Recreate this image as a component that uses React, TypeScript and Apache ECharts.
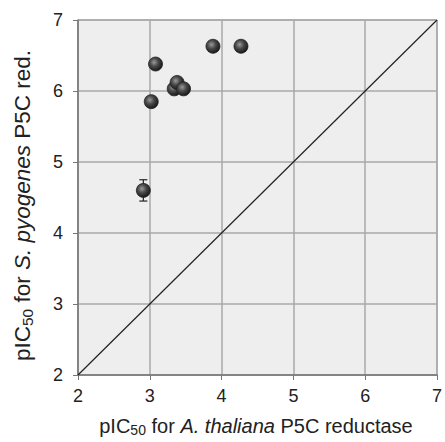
import React, { useEffect, useRef } from "react";
import * as echarts from "echarts";

const xThaliana = [2.91, 3.02, 3.08, 3.34, 3.38, 3.47, 3.88, 4.27];
const ySpyogenes = [4.6, 5.85, 6.38, 6.03, 6.12, 6.03, 6.63, 6.63];
const yError = [0.15, 0, 0, 0, 0, 0, 0, 0];
const identityLine = [2, 7];
const ticks = [2, 3, 4, 5, 6, 7];

export default function App() {
  const ref = useRef<HTMLDivElement>(null);
  useEffect(() => {
    if (!ref.current) return;
    const chart = echarts.init(ref.current, undefined, { renderer: "svg" });
    const font = "'Liberation Sans', Arial, sans-serif";
    const sphere = new echarts.graphic.RadialGradient(0.4, 0.38, 0.65, [
      { offset: 0, color: "#9a9a9a" },
      { offset: 0.45, color: "#4a4a4a" },
      { offset: 1, color: "#151515" },
    ]);
    const mkRich = (fs: number, sub: number, pad: number) => ({
      n: { fontSize: fs, fontFamily: font, color: "#222" },
      i: { fontSize: fs, fontFamily: font, color: "#222", fontStyle: "italic" },
      sub: { fontSize: sub, fontFamily: font, color: "#222", padding: [pad, 0, 0, 0] },
    });
    const errData = xThaliana
      .map((x, k) => [x, ySpyogenes[k] - yError[k], ySpyogenes[k] + yError[k]])
      .filter((d, k) => yError[k] > 0);
    chart.setOption({
      animation: false,
      backgroundColor: "#fff",
      grid: { left: 78, right: 3, top: 20, bottom: 67, show: true, backgroundColor: "#eeeeee", borderColor: "#888", borderWidth: 1 },
      xAxis: {
        type: "value",
        min: ticks[0],
        max: ticks[ticks.length - 1],
        interval: 1,
        name: "{n|pIC}{sub|50}{n| for }{i|A. thaliana}{n| P5C reductase}",
        nameLocation: "middle",
        nameGap: 40,
        nameTextStyle: { rich: mkRich(20, 14, 8), padding: [0, 3, 0, 0] },
        axisLine: { show: true, onZero: false, lineStyle: { color: "#777", width: 1.5 } },
        axisTick: { show: true, length: 5, lineStyle: { color: "#777" } },
        axisLabel: { fontSize: 18, color: "#222", fontFamily: font, margin: 12 },
        splitLine: { show: true, lineStyle: { color: "#a8a8a8", width: 1.5 } },
      },
      yAxis: {
        type: "value",
        min: ticks[0],
        max: ticks[ticks.length - 1],
        interval: 1,
        name: "{n|pIC}{sub|50}{n| for }{i|S. pyogenes}{n| P5C red.}",
        nameLocation: "middle",
        nameGap: 43,
        nameRotate: 90,
        nameTextStyle: { rich: mkRich(22.5, 15.5, 9), padding: [0, 16, 0, 0] },
        axisLine: { show: true, onZero: false, lineStyle: { color: "#777", width: 1.5 } },
        axisTick: { show: true, length: 5, lineStyle: { color: "#777" } },
        axisLabel: { fontSize: 18, color: "#222", fontFamily: font, margin: 15 },
        splitLine: { show: true, lineStyle: { color: "#a8a8a8", width: 1.5 } },
      },
      series: [
        {
          type: "line",
          data: identityLine.map((v) => [v, v]),
          symbol: "none",
          lineStyle: { color: "#222", width: 1.2 },
          z: 2,
        },
        {
          type: "custom",
          data: errData,
          renderItem: (params: any, api: any) => {
            const x = api.value(0);
            const lo = api.coord([x, api.value(1)]);
            const hi = api.coord([x, api.value(2)]);
            const style = { stroke: "#222", lineWidth: 1.2 };
            return {
              type: "group",
              children: [
                { type: "line", shape: { x1: lo[0], y1: lo[1], x2: hi[0], y2: hi[1] }, style },
                { type: "line", shape: { x1: lo[0] - 4, y1: lo[1], x2: lo[0] + 4, y2: lo[1] }, style },
                { type: "line", shape: { x1: hi[0] - 4, y1: hi[1], x2: hi[0] + 4, y2: hi[1] }, style },
              ],
            };
          },
          z: 3,
        },
        {
          type: "scatter",
          data: xThaliana.map((x, k) => [x, ySpyogenes[k]]),
          symbol: "circle",
          symbolSize: 14,
          itemStyle: { color: sphere, borderColor: "#222", borderWidth: 0.8, opacity: 1 },
          z: 4,
        },
      ],
    });
    return () => chart.dispose();
  }, []);
  return <div ref={ref} style={{ width: 445, height: 442, position: "absolute", left: 0, top: 0 }} />;
}
